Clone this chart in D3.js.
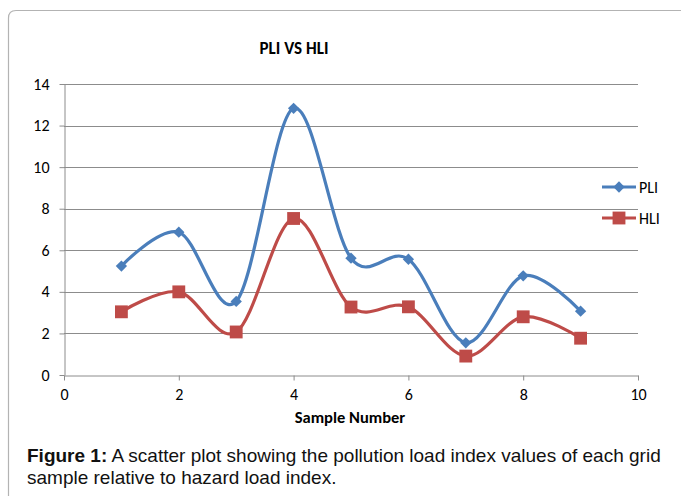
<!DOCTYPE html>
<html>
<head>
<meta charset="utf-8">
<script src="https://cdn.jsdelivr.net/npm/d3@7"></script>
<style>
  body { margin: 0; background: #fff; }
  svg { display: block; }
</style>
</head>
<body>
<svg id="chart" width="681" height="496"></svg>
<script>
// values
const samples = [1, 2, 3, 4, 5, 6, 7, 8, 9];
const pli = [5.24, 6.87, 3.54, 12.83, 5.62, 5.57, 1.55, 4.77, 3.07];
const hli = [3.04, 4.0, 2.07, 7.53, 3.27, 3.28, 0.91, 2.8, 1.77];
const xTicks = [0, 2, 4, 6, 8, 10];
const yTicks = [0, 2, 4, 6, 8, 10, 12, 14];

const blue = "#4a7ebb", red = "#be4b48";
const chartFont = "Carlito, Lato, 'Open Sans', sans-serif";

const svg = d3.select("#chart");

// outer frame (rounded top-left, runs off right and bottom)
svg.append("path")
  .attr("d", "M8.5,496 L8.5,18 Q8.5,10.5 16,10.5 L681,10.5")
  .attr("fill", "none")
  .attr("stroke", "#b3b3b3")
  .attr("stroke-width", 1.2);

const x = d3.scaleLinear().domain([0, 10]).range([64, 638]);
const y = d3.scaleLinear().domain([0, 14]).range([375, 84]);

// gridlines
svg.append("g")
  .selectAll("line")
  .data(yTicks.filter(d => d > 0))
  .join("line")
  .attr("x1", x(0)).attr("x2", x(10))
  .attr("y1", d => Math.round(y(d)) + 0.5).attr("y2", d => Math.round(y(d)) + 0.5)
  .attr("stroke", "#8c8c8c")
  .attr("stroke-width", 1);

// y axis
const yAxis = svg.append("g")
  .attr("transform", `translate(${x(0) + 0.5},0)`)
  .call(d3.axisLeft(y).tickValues(yTicks).tickSize(5).tickSizeOuter(0).tickPadding(10));
yAxis.select(".domain").attr("stroke", "#8c8c8c");
yAxis.selectAll(".tick line").attr("stroke", "#8c8c8c");
yAxis.selectAll("text")
  .style("font-family", chartFont)
  .style("font-size", "16px")
  .attr("fill", "#000");

// x axis
const xAxis = svg.append("g")
  .attr("transform", `translate(0,${Math.round(y(0)) + 0.5})`)
  .call(d3.axisBottom(x).tickValues(xTicks).tickSize(5).tickSizeOuter(0).tickPadding(8));
xAxis.select(".domain").attr("stroke", "#8c8c8c");
xAxis.selectAll(".tick line").attr("stroke", "#8c8c8c");
xAxis.selectAll("text")
  .style("font-family", chartFont)
  .style("font-size", "16px")
  .attr("fill", "#000");

// title + axis title
svg.append("text")
  .attr("x", 294).attr("y", 54)
  .attr("text-anchor", "middle")
  .style("font-family", chartFont)
  .style("font-size", "17px")
  .style("font-weight", "bold")
  .text("PLI VS HLI");

svg.append("text")
  .attr("x", 350).attr("y", 423)
  .attr("text-anchor", "middle")
  .style("font-family", chartFont)
  .style("font-size", "16.5px")
  .style("font-weight", "bold")
  .text("Sample Number");

const line = d3.line()
  .x(d => x(d[0]))
  .y(d => y(d[1]))
  .curve(d3.curveCardinal.tension(0));

// PLI diamond = square turned 45 degrees
const series = [
  { name: "PLI", values: pli, color: blue, size: 64, rot: 45 },
  { name: "HLI", values: hli, color: red, size: 165, rot: 0 }
];

series.slice().reverse().forEach(s => {
  const pts = samples.map((d, i) => [d, s.values[i]]);
  svg.append("path")
    .datum(pts)
    .attr("d", line)
    .attr("fill", "none")
    .attr("stroke", s.color)
    .attr("stroke-width", 3.2);

  svg.append("g")
    .selectAll("path")
    .data(pts)
    .join("path")
    .attr("transform", d => `translate(${x(d[0])},${y(d[1])}) rotate(${s.rot})`)
    .attr("d", d3.symbol(d3.symbolSquare, s.size))
    .attr("fill", s.color);
});

// legend
const legend = svg.append("g")
  .selectAll("g")
  .data(series)
  .join("g")
  .attr("transform", (d, i) => `translate(602,${187 + i * 31})`);

legend.append("line")
  .attr("x1", 0).attr("x2", 34)
  .attr("stroke", d => d.color)
  .attr("stroke-width", 3.2);
legend.append("path")
  .attr("transform", d => `translate(17,0) rotate(${d.rot})`)
  .attr("d", d => d3.symbol(d3.symbolSquare, d.size)())
  .attr("fill", d => d.color);
legend.append("text")
  .attr("x", 37).attr("y", 6)
  .style("font-family", chartFont)
  .style("font-size", "16px")
  .text(d => d.name);

// caption
const cap = svg.append("text")
  .style("font-family", "'Liberation Sans', Arial, sans-serif")
  .style("font-size", "19px")
  .attr("fill", "#111");
const l1 = cap.append("tspan").attr("x", 27).attr("y", 462);
l1.append("tspan").style("font-weight", "bold").text("Figure 1:");
l1.append("tspan").text(" A scatter plot showing the pollution load index values of each grid");
cap.append("tspan").attr("x", 27).attr("y", 484).text("sample relative to hazard load index.");
</script>
</body>
</html>
